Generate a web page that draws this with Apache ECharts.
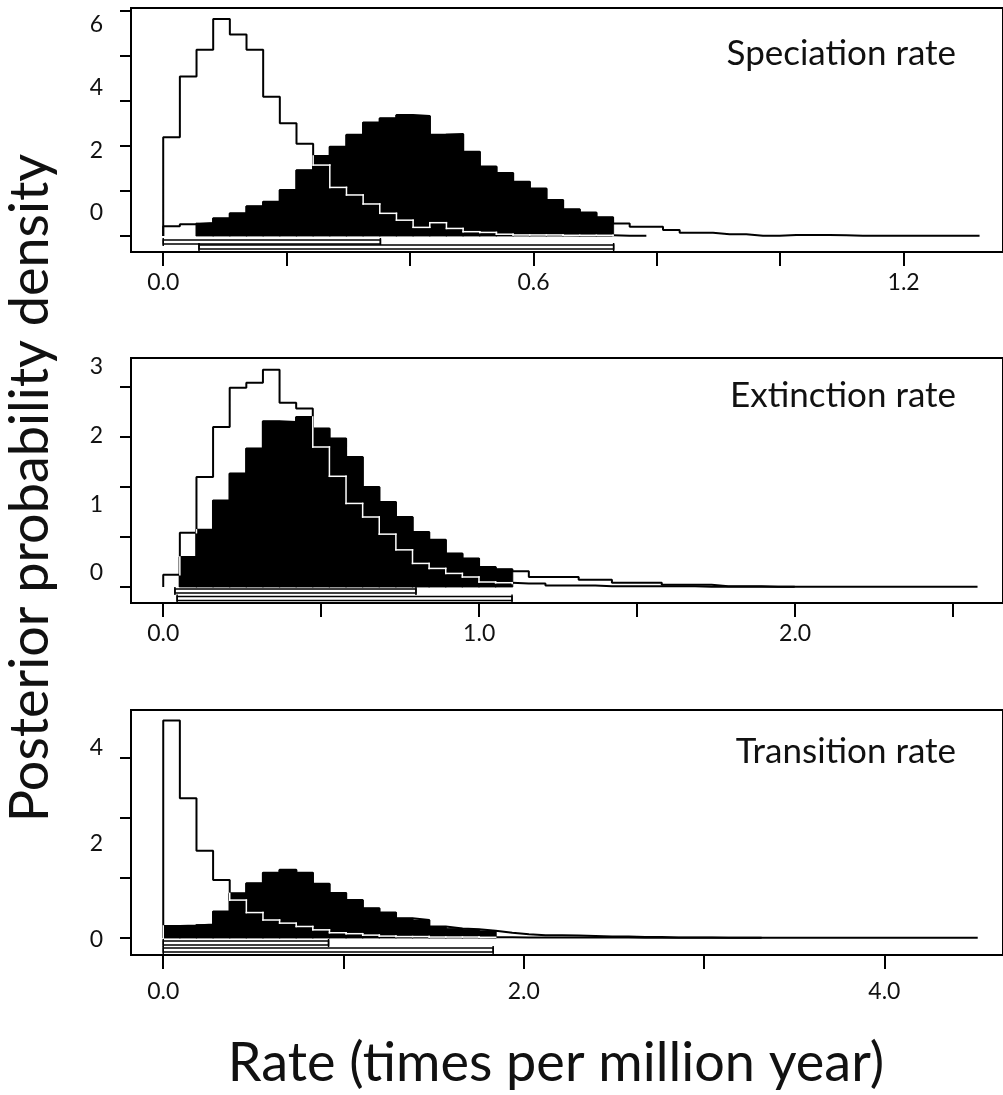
<!DOCTYPE html>
<html>
<head>
<meta charset="utf-8">
<script src="https://cdn.jsdelivr.net/npm/echarts@6/dist/echarts.min.js"></script>
<style>
html,body{margin:0;padding:0;background:#fff;}
#chart{width:1003px;height:1095px;}
</style>
</head>
<body>
<div id="chart"></div>
<script>
/******************************** 数据 ********************************/
var panelTitles = ['Speciation rate', 'Extinction rate', 'Transition rate'];

// Speciation
var specBinWidth = 0.027;
var specOpen = [2.74, 4.43, 5.17, 6.03, 5.60, 5.17, 3.87, 3.13, 2.56, 1.97, 1.35, 1.14, 0.89, 0.63, 0.44,
	0.24, 0.37, 0.21, 0.12, 0.10, 0.05, 0.03, 0.03, 0.03, 0.02, 0.02, 0.02, 0.01, 0.01];
var specFilled = [0.27, 0.33, 0.36, 0.49, 0.63, 0.83, 0.95, 1.28, 1.83, 2.22, 2.48, 2.81, 3.15, 3.27, 3.36,
	3.33, 2.81, 2.83, 2.34, 1.93, 1.75, 1.51, 1.32, 1.00, 0.74, 0.65, 0.52, 0.35, 0.26, 0.26,
	0.17, 0.09, 0.09, 0.05, 0.05, 0.01, 0.01, 0.03, 0.03, 0.03, 0.02, 0.01, 0.01, 0.01, 0.01,
	0.01, 0.005, 0.005, 0.005];
var specOpenHpd = [0, 0.352];
var specFilledHpd = [0.058, 0.73];
var specXTicks = [0, 0.2, 0.4, 0.6, 0.8, 1.0, 1.2];
var specXLabels = [0, 0.6, 1.2];
var specYTicks = [0, 1.25, 2.5, 3.75, 5, 6.25];
var specYLabels = [0, 2, 4, 6];

// Extinction
var extBinWidth = 0.0526;
var extOpen = [0.17, 0.76, 1.54, 2.24, 2.79, 2.86, 3.04, 2.58, 2.50, 1.96, 1.55, 1.17, 0.98, 0.74, 0.52,
	0.33, 0.26, 0.19, 0.14, 0.07, 0.06, 0.05, 0.05, 0.02, 0.02, 0.02, 0.01, 0.01, 0.01, 0.01,
	0.01, 0.01, 0.005, 0.005, 0.005, 0.005, 0.005, 0.005];
var extFilled = [0, 0.42, 0.80, 1.21, 1.59, 1.94, 2.32, 2.31, 2.38, 2.22, 2.08, 1.82, 1.40, 1.19, 0.98,
	0.77, 0.66, 0.47, 0.40, 0.28, 0.25, 0.22, 0.14, 0.14, 0.14, 0.10, 0.10, 0.06, 0.06, 0.06,
	0.03, 0.03, 0.03, 0.01, 0.01, 0.01, 0.005, 0.005, 0.005, 0.005, 0.005, 0.005, 0.005, 0.005, 0.005,
	0.005, 0.005, 0.005, 0.005];
var extOpenHpd = [0.037, 0.80];
var extFilledHpd = [0.044, 1.104];
var extXTicks = [0, 0.5, 1.0, 1.5, 2.0, 2.5];
var extXLabels = [0, 1.0, 2.0];
var extYTicks = [0, 0.7, 1.4, 2.1, 2.8];
var extYLabels = [0, 1, 2, 3];

// Transition
var transBinWidth = 0.0922;
var transOpen = [4.53, 2.91, 1.82, 1.21, 0.79, 0.53, 0.375, 0.31, 0.24, 0.17, 0.11, 0.09, 0.06, 0.04, 0.03,
	0.03, 0.02, 0.02, 0.02, 0.015, 0.015, 0.01, 0.01, 0.01, 0.01, 0.01, 0.01, 0.01, 0.005, 0.005,
	0.005, 0.005, 0.005, 0.005, 0.005, 0.005];
var transFilled = [0.25, 0.26, 0.28, 0.55, 0.93, 1.14, 1.36, 1.42, 1.36, 1.13, 0.94, 0.79, 0.62, 0.53, 0.41,
	0.375, 0.24, 0.20, 0.18, 0.15, 0.11, 0.08, 0.06, 0.06, 0.05, 0.04, 0.03, 0.03, 0.02, 0.02,
	0.01, 0.01, 0.01, 0.005, 0.005, 0.005, 0.005, 0.005, 0.005, 0.005, 0.005, 0.005, 0.005, 0.005, 0.005,
	0.005, 0.005, 0.005, 0.005];
var transOpenHpd = [0, 0.917];
var transFilledHpd = [0, 1.83];
var transXTicks = [0, 1, 2, 3, 4];
var transXLabels = [0, 2.0, 4.0];
var transYTicks = [0, 1.25, 2.5, 3.75];
var transYLabels = [0, 2, 4];

/******************************** 面板布局 ********************************/
var FONT = 'Lato';
var panels = [
	{open: specOpen, filled: specFilled, bw: specBinWidth, openHpd: specOpenHpd, filledHpd: specFilledHpd,
	 xTicks: specXTicks, xLabels: specXLabels, yTicks: specYTicks, yLabels: specYLabels,
	 top: 8, height: 244, xMin: -0.0522, xMax: 1.361, yMin: -0.444, yMax: 6.333, labMin: -1.245, labMax: 6.543,
	 xMargin: 19, hpdOffsets: [6, 11], titleTop: 36},
	{open: extOpen, filled: extFilled, bw: extBinWidth, openHpd: extOpenHpd, filledHpd: extFilledHpd,
	 xTicks: extXTicks, xLabels: extXLabels, yTicks: extYTicks, yLabels: extYLabels,
	 top: 358, height: 245, xMin: -0.102, xMax: 2.658, yMin: -0.224, yMax: 3.206, labMin: -0.437, labMax: 3.13,
	 xMargin: 19, hpdOffsets: [4, 11.5], titleTop: 378},
	{open: transOpen, filled: transFilled, bw: transBinWidth, openHpd: transOpenHpd, filledHpd: transFilledHpd,
	 xTicks: transXTicks, xLabels: transXLabels, yTicks: transYTicks, yLabels: transYLabels,
	 top: 710, height: 245, xMin: -0.1788, xMax: 4.658, yMin: -0.354, yMax: 4.75, labMin: -0.3125, labMax: 4.79,
	 xMargin: 25, hpdOffsets: [5, 12], titleTop: 734}
];

// 直方图阶梯线的点
function stepPoints(vals, bw) {
	var s = 0;
	while (s < vals.length && vals[s] <= 0) s++;
	var pts = [[s * bw, 0]];
	for (var k = s; k < vals.length; k++) pts.push([k * bw, vals[k]]);
	pts.push([vals.length * bw, vals[vals.length - 1]]);
	pts.push([vals.length * bw, 0]);
	return pts;
}

function isFilledBin(k, bw, hpd, n) {
	if (k < 0 || k >= n) return false;
	var c = (k + 0.5) * bw;
	return c >= hpd[0] && c <= hpd[1];
}

// 填充部分（HPD 区间内的柱）
function filledBars(p) {
	var out = [];
	for (var k = 0; k < p.filled.length; k++) {
		if (isFilledBin(k, p.bw, p.filledHpd, p.filled.length)) out.push([k * p.bw, (k + 1) * p.bw, p.filled[k]]);
	}
	return out;
}

// 空心直方图落在黑色区域里的线段 -> 白色
function innerSegments(p) {
	var fillH = function (k) {
		return isFilledBin(k, p.bw, p.filledHpd, p.filled.length) ? p.filled[k] : 0;
	};
	var openH = function (k) {
		return (k < 0 || k >= p.open.length) ? 0 : p.open[k];
	};
	var segs = [];
	for (var k = 0; k <= p.open.length; k++) {
		var a = openH(k - 1), b = openH(k);
		var lo = Math.min(a, b), hi = Math.max(a, b);
		var L = Math.max(fillH(k - 1), fillH(k));
		if (L > lo && hi > lo) segs.push([k * p.bw, lo, k * p.bw, Math.min(hi, L)]);
		if (k < p.open.length && fillH(k) > p.open[k]) segs.push([k * p.bw, p.open[k], (k + 1) * p.bw, p.open[k]]);
	}
	return segs;
}

function renderBar(params, api) {
	var p0 = api.coord([api.value(0), api.value(2)]);
	var p1 = api.coord([api.value(1), 0]);
	return {
		type: 'rect',
		shape: {x: p0[0] - 0.6, y: p0[1], width: p1[0] - p0[0] + 1.2, height: p1[1] - p0[1]},
		style: {fill: '#000', stroke: '#000', lineWidth: 0.8}
	};
}

function renderSeg(params, api) {
	var a = api.coord([api.value(0), api.value(1)]);
	var b = api.coord([api.value(2), api.value(3)]);
	return {
		type: 'line',
		shape: {x1: a[0], y1: a[1], x2: b[0], y2: b[1]},
		style: {stroke: '#fff', lineWidth: 1.5, lineCap: 'square'}
	};
}

function makeHpdRender(offsets) {
	return function (params, api) {
		var p0 = api.coord([api.value(0), 0]);
		var p1 = api.coord([api.value(1), 0]);
		var y = p0[1] + offsets[api.value(2)];
		return {
			type: 'group',
			children: [
				{type: 'rect', shape: {x: p0[0], y: y - 2, width: p1[0] - p0[0], height: 4},
				 style: {fill: '#fff', stroke: '#000', lineWidth: 1.5}},
				{type: 'line', shape: {x1: p0[0], y1: y - 4, x2: p0[0], y2: y + 4}, style: {stroke: '#000', lineWidth: 1.5}},
				{type: 'line', shape: {x1: p1[0], y1: y - 4, x2: p1[0], y2: y + 4}, style: {stroke: '#000', lineWidth: 1.5}}
			]
		};
	};
}

var grids = [], xAxes = [], yAxes = [], series = [], titles = [];
panels.forEach(function (p, i) {
	grids.push({left: 131, top: p.top, width: 874, height: p.height, show: true,
		borderColor: '#000', borderWidth: 2, backgroundColor: 'transparent'});
	xAxes.push({
		type: 'value', gridIndex: i, min: p.xMin, max: p.xMax, position: 'bottom',
		axisLine: {show: false, onZero: false},
		axisTick: {show: true, length: 14, lineStyle: {color: '#000', width: 2}, customValues: p.xTicks},
		axisLabel: {customValues: p.xLabels, margin: p.xMargin, fontSize: 23, fontFamily: FONT, color: '#111',
			formatter: function (v) { return v.toFixed(1); }},
		splitLine: {show: false}
	});
	// 刻度轴
	yAxes.push({
		type: 'value', gridIndex: i, min: p.yMin, max: p.yMax, position: 'left',
		axisLine: {show: false, onZero: false},
		axisTick: {show: true, length: 11, lineStyle: {color: '#000', width: 2}, customValues: p.yTicks},
		axisLabel: {show: false},
		splitLine: {show: false}
	});
	// 标签轴（原图标签与刻度不对齐）
	yAxes.push({
		type: 'value', gridIndex: i, min: p.labMin, max: p.labMax, position: 'left',
		axisLine: {show: false, onZero: false}, axisTick: {show: false}, splitLine: {show: false},
		axisLabel: {customValues: p.yLabels, margin: 28, fontSize: 23, fontFamily: FONT, color: '#111'}
	});

	series.push({
		type: 'line', xAxisIndex: i, yAxisIndex: 2 * i, step: 'end', symbol: 'none', silent: true, z: 2,
		lineStyle: {color: '#000', width: 2}, data: stepPoints(p.open, p.bw)
	});
	series.push({
		type: 'custom', xAxisIndex: i, yAxisIndex: 2 * i, silent: true, z: 3,
		renderItem: renderBar, data: filledBars(p)
	});
	series.push({
		type: 'line', xAxisIndex: i, yAxisIndex: 2 * i, step: 'end', symbol: 'none', silent: true, z: 4,
		lineStyle: {color: '#000', width: 2}, data: stepPoints(p.filled, p.bw)
	});
	series.push({
		type: 'custom', xAxisIndex: i, yAxisIndex: 2 * i, silent: true, z: 5,
		renderItem: renderSeg, data: innerSegments(p)
	});
	series.push({
		type: 'custom', xAxisIndex: i, yAxisIndex: 2 * i, silent: true, z: 6,
		renderItem: makeHpdRender(p.hpdOffsets),
		data: [[p.openHpd[0], p.openHpd[1], 0], [p.filledHpd[0], p.filledHpd[1], 1]]
	});

	titles.push({text: panelTitles[i], right: 47, top: p.titleTop, padding: 0,
		textStyle: {fontSize: 35, fontWeight: 'normal', fontFamily: FONT, color: '#111'}});
});

var chart = echarts.init(document.getElementById('chart'));
chart.setOption({
	animation: false,
	backgroundColor: '#fff',
	title: titles,
	grid: grids,
	xAxis: xAxes,
	yAxis: yAxes,
	series: series,
	graphic: [
		{type: 'text', x: 31, y: 488, rotation: Math.PI / 2,
		 style: {text: 'Posterior probability density', fontSize: 54, fontFamily: FONT, fill: '#111',
			 align: 'center', verticalAlign: 'middle', textAlign: 'center', textVerticalAlign: 'middle'}},
		{type: 'text', x: 556, y: 1064,
		 style: {text: 'Rate (times per million year)', fontSize: 54, fontFamily: FONT, fill: '#111',
			 align: 'center', verticalAlign: 'middle', textAlign: 'center', textVerticalAlign: 'middle'}}
	]
});
</script>
</body>
</html>
